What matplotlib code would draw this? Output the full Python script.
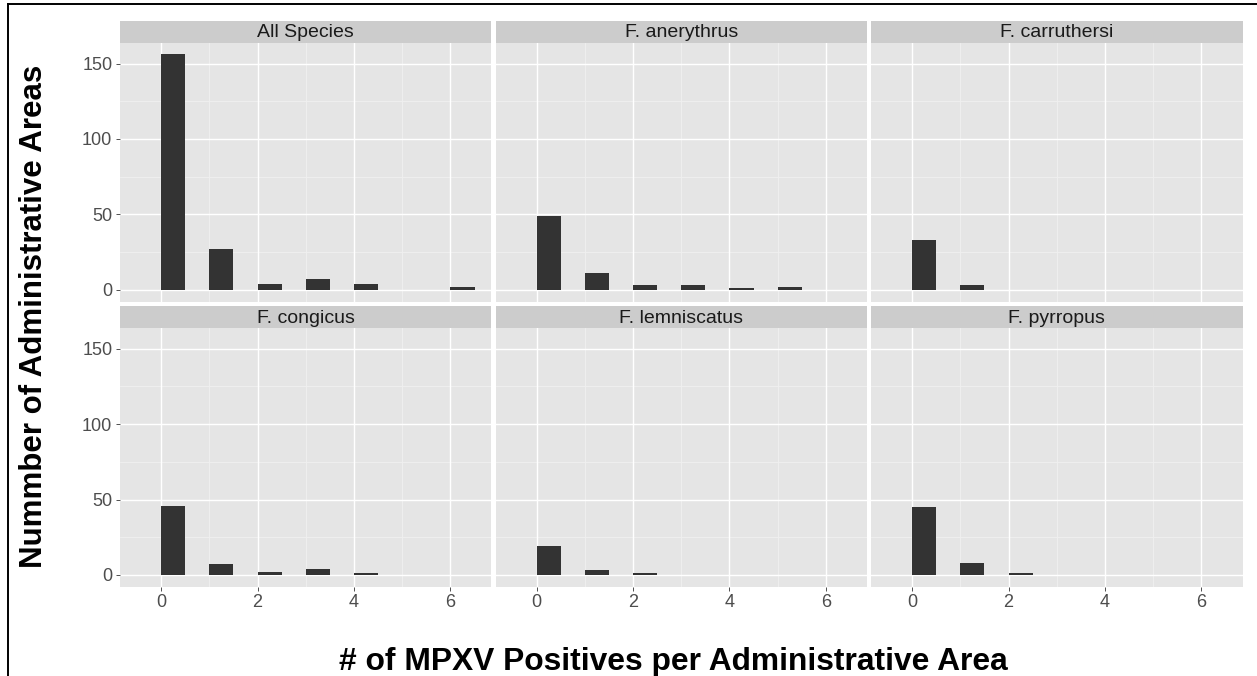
import matplotlib
matplotlib.use("Agg")
import matplotlib.pyplot as plt
from matplotlib.lines import Line2D

plt.rcParams['font.family'] = ['Liberation Sans', 'DejaVu Sans']

# Number of MPXV positives per administrative area (bin start)
positives = [0, 1, 2, 3, 4, 5, 6]

# Count of administrative areas in each bin, per facet
panel_titles = ["All Species", "F. anerythrus", "F. carruthersi",
                "F. congicus", "F. lemniscatus", "F. pyrropus"]
all_species = [156, 27, 4, 7, 4, 0, 2]
f_anerythrus = [49, 11, 3, 3, 1, 2, 0]
f_carruthersi = [33, 3, 0, 0, 0, 0, 0]
f_congicus = [46, 7, 2, 4, 1, 0, 0]
f_lemniscatus = [19, 3, 1, 0, 0, 0, 0]
f_pyrropus = [45, 8, 1, 0, 0, 0, 0]
panel_counts = [all_species, f_anerythrus, f_carruthersi,
                f_congicus, f_lemniscatus, f_pyrropus]

x_ticks = [0, 2, 4, 6]
x_minor = [1, 3, 5]
y_ticks = [0, 50, 100, 150]
y_minor = [25, 75, 125]

W, H = 1257, 676
fig = plt.figure(figsize=(W / 100, H / 100), dpi=100)
fig.patch.set_facecolor("white")

def fx(px):
    return px / W

def fy(py):
    return 1 - py / H

col_left = [120, 495.5, 871]
col_w = 371.5
rows = [(20.7, 42.7, 301.7), (306, 328, 586.7)]  # strip top, panel top, panel bottom

PANEL_BG = "#E5E5E5"
STRIP_BG = "#CCCCCC"
BAR = "#333333"
TICK_LABEL = "#4D4D4D"

for i, (title, counts) in enumerate(zip(panel_titles, panel_counts)):
    r, c = divmod(i, 3)
    s_top, p_top, p_bot = rows[r]
    left = col_left[c]

    ax = fig.add_axes([fx(left), fy(p_bot), col_w / W, (p_bot - p_top) / H])
    ax.set_facecolor(PANEL_BG)
    for sp in ax.spines.values():
        sp.set_visible(False)

    for m in x_minor:
        ax.axvline(m, color="#F0F0F0", lw=0.6, zorder=0)
    for m in y_minor:
        ax.axhline(m, color="#F0F0F0", lw=0.6, zorder=0)
    for t in x_ticks:
        ax.axvline(t, color="white", lw=1.0, zorder=0.5)
    for t in y_ticks:
        ax.axhline(t, color="white", lw=1.0, zorder=0.5)

    xs = [p for p, v in zip(positives, counts) if v > 0]
    hs = [v for v in counts if v > 0]
    ax.bar(xs, hs, width=0.5, align="edge", color=BAR, linewidth=0, zorder=2)

    ax.set_xlim(-0.85, 6.85)
    ax.set_ylim(-7.8, 163.8)
    ax.set_xticks(x_ticks)
    ax.set_yticks(y_ticks)
    ax.tick_params(axis="both", colors="#333333", length=3, width=0.6,
                   labelcolor=TICK_LABEL, labelsize=13, pad=2.5)
    if r == 0:
        ax.tick_params(axis="x", length=0, labelbottom=False)
    else:
        ax.set_xticklabels([str(t) for t in x_ticks])
    if c != 0:
        ax.tick_params(axis="y", length=0, labelleft=False)
    else:
        ax.set_yticklabels([str(t) for t in y_ticks])

    sax = fig.add_axes([fx(left), fy(p_top), col_w / W, (p_top - s_top) / H])
    sax.set_facecolor(STRIP_BG)
    sax.set_xticks([])
    sax.set_yticks([])
    for sp in sax.spines.values():
        sp.set_visible(False)
    sax.text(0.5, 0.45, title, ha="center", va="center", fontsize=14,
             color="#1A1A1A", transform=sax.transAxes)

fig.text(fx(673), fy(670), "# of MPXV Positives per Administrative Area",
         ha="center", va="baseline", fontsize=22.9, fontweight="bold",
         color="black")
fig.text(fx(34), fy(316), "Nummber of Administrative Areas",
         ha="center", va="center", rotation=90, fontsize=22.5,
         fontweight="bold", color="black")

# frame lines along the top and left edges
fig.add_artist(Line2D([fx(8), 1], [fy(3.5), fy(3.5)], color="black", lw=1.4,
                      transform=fig.transFigure))
fig.add_artist(Line2D([fx(8.3), fx(8.3)], [fy(3.5), 0], color="black", lw=1.4,
                      transform=fig.transFigure))

fig.savefig("out.png", dpi=100)
